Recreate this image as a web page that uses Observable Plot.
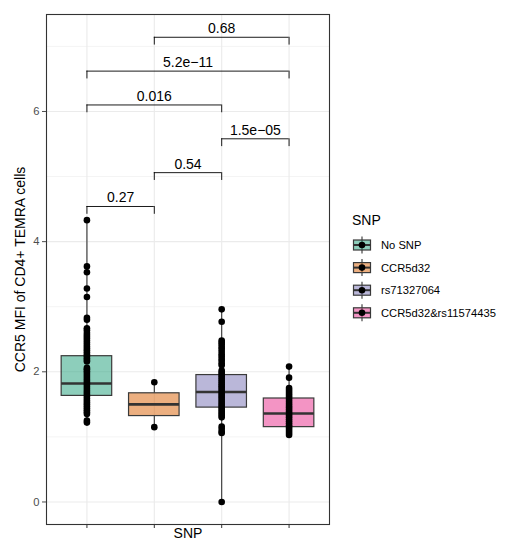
<!DOCTYPE html>
<html>
<head>
<meta charset="utf-8">
<script src="https://cdn.jsdelivr.net/npm/d3@7"></script>
<script src="https://cdn.jsdelivr.net/npm/@observablehq/plot@0.6"></script>
<style>
  html, body { margin: 0; padding: 0; background: #fff; }
  #chart { width: 506px; height: 541px; }
</style>
</head>
<body>
<div id="chart"></div>
<script>
// ---- data ----
const categories = ["No SNP", "CCR5d32", "rs71327064", "CCR5d32&rs11574435"];
const colors = ["#1B9E77", "#D95F02", "#7570B3", "#E7298A"];

// box statistics per category
const boxLow    = [1.21, 1.15, 0.00, 1.03];
const boxQ1     = [1.63, 1.32, 1.45, 1.15];
const boxMedian = [1.82, 1.50, 1.69, 1.36];
const boxQ3     = [2.24, 1.67, 1.95, 1.59];
const boxHigh   = [4.33, 1.84, 2.96, 2.08];

// individual observations per category
const valuesNoSNP = [4.33, 3.62, 3.53, 3.28, 3.15, 2.83, 2.80, 2.67, 2.64, 2.60, 2.57, 2.54, 2.51, 2.48,
  2.45, 2.42, 2.39, 2.36, 2.33, 2.30, 2.27, 2.24, 2.21, 2.18, 2.16, 2.06, 2.04, 2.01, 1.98, 1.95,
  1.92, 1.89, 1.86, 1.83, 1.80, 1.77, 1.74, 1.71, 1.68, 1.65, 1.62, 1.59, 1.56, 1.53, 1.50, 1.47,
  1.44, 1.41, 1.38, 1.35, 1.25, 1.22];
const valuesCCR5d32 = [1.84, 1.15];
const valuesRs71327064 = [2.96, 2.77, 2.48, 2.45, 2.42, 2.38, 2.35, 2.31, 2.27, 2.24, 2.20, 2.17, 2.13,
  2.10, 2.02, 1.99, 1.96, 1.93, 1.90, 1.87, 1.84, 1.81, 1.78, 1.75, 1.72, 1.69, 1.66, 1.63, 1.60,
  1.57, 1.54, 1.51, 1.48, 1.45, 1.42, 1.39, 1.36, 1.33, 1.30, 1.16, 1.12, 1.08, 1.06, 0.00];
const valuesDouble = [2.08, 1.91, 1.75, 1.72, 1.69, 1.66, 1.63, 1.60, 1.57, 1.54, 1.51, 1.48, 1.45,
  1.42, 1.39, 1.36, 1.33, 1.30, 1.27, 1.24, 1.21, 1.18, 1.15, 1.12, 1.09, 1.06, 1.03];

// significance brackets (category indices, 1-based)
const bracketFrom  = [1, 2, 3, 1, 1, 2];
const bracketTo    = [2, 3, 4, 3, 4, 4];
const bracketY     = [4.54, 5.06, 5.58, 6.10, 6.62, 7.14];
const bracketLabel = ["0.27", "0.54", "1.5e\u221205", "0.016", "5.2e\u221211", "0.68"];

const yTicks = [0, 2, 4, 6];
const yMinor = [1, 3, 5, 7];
const yLabel = "CCR5 MFI of CD4+ TEMRA cells";
const xLabel = "SNP";
const legendTitle = "SNP";

// ---- derived tables ----
const boxes = categories.map((c, i) => ({
  i: i + 1, cat: c, color: colors[i],
  lo: boxLow[i], q1: boxQ1[i], med: boxMedian[i], q3: boxQ3[i], hi: boxHigh[i]
}));
const valueLists = [valuesNoSNP, valuesCCR5d32, valuesRs71327064, valuesDouble];
const points = valueLists.flatMap((vals, i) => vals.map(v => ({i: i + 1, v})));
const brackets = bracketFrom.map((f, k) => ({
  x1: f, x2: bracketTo[k], y: bracketY[k], label: bracketLabel[k], mid: (f + bracketTo[k]) / 2
}));
const tipLen = 0.12;
const tips = brackets.flatMap(b => [{x: b.x1, y: b.y}, {x: b.x2, y: b.y}]);
const halfW = 0.375;

const font = "'Liberation Sans', Arial, Helvetica, sans-serif";
const bigFont = 14;
const smallFont = 11.2;

const plot = Plot.plot({
  width: 506,
  height: 541,
  marginLeft: 46,
  marginRight: 177,
  marginTop: 14,
  marginBottom: 17,
  style: {fontFamily: font, background: "#fff", overflow: "visible"},
  x: {domain: [0.4, 4.6], axis: null},
  y: {domain: [-0.346, 7.49], axis: null},
  marks: [
    // grid
    Plot.ruleY(yMinor, {stroke: "#ebebeb", strokeWidth: 0.6}),
    Plot.ruleY(yTicks, {stroke: "#ebebeb", strokeWidth: 1.1}),
    Plot.ruleX([1, 2, 3, 4], {stroke: "#ebebeb", strokeWidth: 1.1}),
    // whiskers
    Plot.ruleX(boxes, {x: "i", y1: "lo", y2: "q1", stroke: "#333", strokeWidth: 1.1}),
    Plot.ruleX(boxes, {x: "i", y1: "q3", y2: "hi", stroke: "#333", strokeWidth: 1.1}),
    // boxes
    Plot.rect(boxes, {x1: d => d.i - halfW, x2: d => d.i + halfW, y1: "q1", y2: "q3",
      fill: "color", fillOpacity: 0.5, stroke: "#3a3a3a", strokeWidth: 1.2}),
    Plot.ruleY(boxes, {x1: d => d.i - halfW, x2: d => d.i + halfW, y: "med", stroke: "#333", strokeWidth: 2.6}),
    // points
    Plot.dot(points, {x: "i", y: "v", r: 3.3, fill: "#000", stroke: "none"}),
    // brackets
    Plot.ruleY(brackets, {x1: "x1", x2: "x2", y: "y", stroke: "#000", strokeWidth: 0.9}),
    Plot.ruleX(tips, {x: "x", y1: d => d.y - tipLen, y2: "y", stroke: "#000", strokeWidth: 0.9}),
    Plot.text(brackets, {x: "mid", y: "y", text: "label", dy: -4, lineAnchor: "bottom",
      fontSize: bigFont, fill: "#000"}),
    // frame
    Plot.frame({stroke: "#333", strokeWidth: 1.1}),
    // axes
    Plot.axisY({ticks: yTicks, tickSize: 4, tickPadding: 3, fontSize: smallFont, color: "#4d4d4d", label: null}),
    Plot.axisX({ticks: [1, 2, 3, 4], tickFormat: () => "", tickSize: 4, color: "#333", label: null}),
    Plot.text([yLabel], {frameAnchor: "left", dx: -26, rotate: -90, fontSize: bigFont, fill: "#000",
      text: d => d, textAnchor: "middle", lineAnchor: "middle"}),
    Plot.text([xLabel], {frameAnchor: "bottom", dy: 9, fontSize: bigFont, fill: "#000",
      text: d => d, textAnchor: "middle", lineAnchor: "middle"})
  ]
});

document.getElementById("chart").appendChild(plot);

// ---- legend (built from the category/colour arrays) ----
const svg = d3.select(plot);
const lg = svg.append("g").attr("font-family", font).attr("text-anchor", "start");
lg.append("text").attr("x", 352).attr("y", 220).attr("dy", "0.35em").attr("text-anchor", "start")
  .attr("font-size", bigFont).attr("fill", "#000").text(legendTitle);
const step = 22.6, y0 = 245, kx = 353.5, kw = 17;
categories.forEach((c, i) => {
  const cy = y0 + i * step;
  const g = lg.append("g");
  g.append("line").attr("x1", kx + kw / 2).attr("x2", kx + kw / 2)
    .attr("y1", cy - 8.5).attr("y2", cy + 8.5).attr("stroke", "#333").attr("stroke-width", 1.1);
  g.append("rect").attr("x", kx).attr("y", cy - 5).attr("width", kw).attr("height", 10)
    .attr("fill", colors[i]).attr("fill-opacity", 0.5).attr("stroke", "#3a3a3a").attr("stroke-width", 1.2);
  g.append("line").attr("x1", kx).attr("x2", kx + kw).attr("y1", cy).attr("y2", cy)
    .attr("stroke", "#333").attr("stroke-width", 2);
  g.append("circle").attr("cx", kx + kw / 2).attr("cy", cy).attr("r", 3.3).attr("fill", "#000");
  g.append("text").attr("x", 381).attr("y", cy).attr("dy", "0.35em").attr("text-anchor", "start")
    .attr("font-size", smallFont).attr("fill", "#000").text(c);
});
</script>
</body>
</html>
